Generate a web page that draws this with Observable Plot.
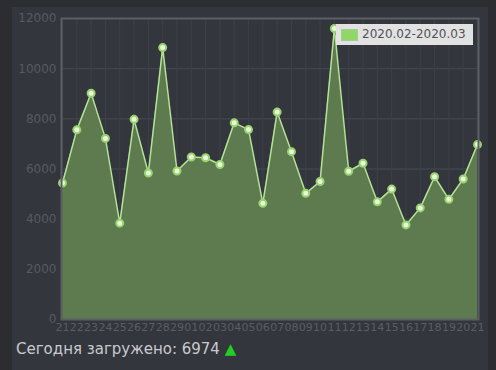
<!DOCTYPE html>
<html><head><meta charset="utf-8">
<script src="https://cdn.jsdelivr.net/npm/d3@7"></script>
<script src="https://cdn.jsdelivr.net/npm/@observablehq/plot@0.6"></script>
<style>
html,body{margin:0;padding:0;background:#2b2d31;width:496px;height:370px;overflow:hidden;font-family:"DejaVu Sans",sans-serif;}
#panel{position:absolute;left:12px;top:7px;width:476px;height:363px;background:#34363d;}
#chart{position:absolute;left:0;top:0;}
#legend{position:absolute;left:336px;top:24px;width:137px;height:21px;background:#e2e2e2;font-size:12px;color:#505258;line-height:21px;white-space:nowrap;}
#legend .sw{position:absolute;left:5px;top:5px;width:15px;height:10px;background:#8fd867;border:1px solid #a8c99a;}
#legend .tx{position:absolute;left:26px;top:0;}
#caption{position:absolute;left:16px;top:340px;font-size:15px;color:#c9cacd;white-space:nowrap;}
#caption .up{color:#22d022;}
</style></head>
<body>
<div id="panel"></div>
<div id="chart"></div>
<div id="legend"><div class="sw"></div><div class="tx"></div></div>
<div id="caption"></div>
<script>
const labels = ["21","22","23","24","25","26","27","28","29","01","02","03","04","05","06","07","08","09","10","11","12","13","14","15","16","17","18","19","20","21"];
const values = [5440,7560,9020,7220,3840,7980,5840,10840,5920,6480,6450,6180,7840,7570,4630,8270,6690,5030,5500,11600,5910,6230,4690,5200,3770,4450,5690,4790,5600,6974];
const seriesName = "2020.02-2020.03";
const todayCount = 6974;
const yTicks = [0,2000,4000,6000,8000,10000,12000];

const data = values.map((v,i)=>({i, v}));
const idx = labels.map((_,i)=>i);

const chart = Plot.plot({
  width: 496, height: 340,
  marginLeft: 61, marginRight: 18, marginTop: 18, marginBottom: 21,
  style: {background: "transparent", fontFamily: "DejaVu Sans, sans-serif", overflow: "visible"},
  x: {type: "linear", domain: [0, labels.length-1], inset: 1, label: null},
  y: {domain: [0, 12000], label: null},
  marks: [
    Plot.gridY(yTicks, {stroke: "#484a52", strokeOpacity: 1, strokeWidth: 1}),
    Plot.gridX(idx, {stroke: "#3e4048", strokeOpacity: 1, strokeWidth: 1}),
    Plot.areaY(data, {x: "i", y: "v", fill: "#5e7b4f", fillOpacity: 1}),
    Plot.line(data, {x: "i", y: "v", stroke: "#b4e296", strokeWidth: 1.5}),
    Plot.dot(data, {x: "i", y: "v", r: 3.5, fill: "#eaf6de", stroke: "#98d46c", strokeWidth: 2}),
    Plot.frame({stroke: "#5c5e64", strokeWidth: 2}),
    Plot.axisX({ticks: idx, tickFormat: d => labels[d], tickSize: 0, tickPadding: 4, fontSize: 11, fill: "#5a5d64", label: null}),
    Plot.axisY({ticks: yTicks, tickFormat: d => String(d), tickSize: 0, tickPadding: 5, fontSize: 12, fill: "#575a61", label: null})
  ]
});
document.getElementById("chart").appendChild(chart);
document.querySelector("#legend .tx").textContent = seriesName;
const cap = document.getElementById("caption");
cap.innerHTML = "Сегодня загружено: " + todayCount + " <span class='up'>▲</span>";
</script>
</body></html>
